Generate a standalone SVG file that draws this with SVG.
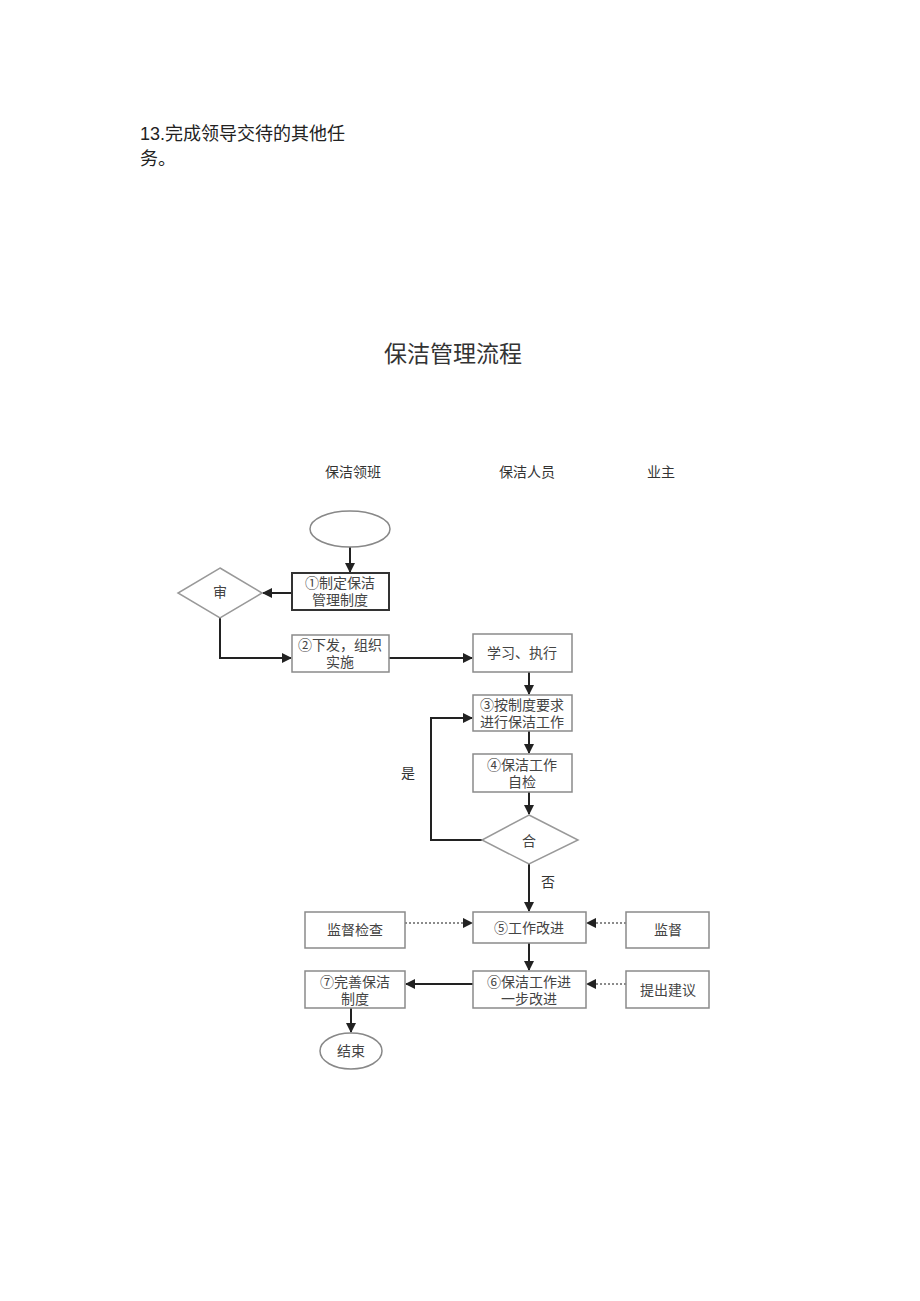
<svg xmlns="http://www.w3.org/2000/svg" width="920" height="1301" viewBox="0 0 920 1301">
<style>
.t{font-family:"Liberation Serif","Noto Sans CJK SC",serif;fill:#333;}
.b{fill:#fff;stroke:#8a8a8a;stroke-width:1.5;}
.bt{font-family:"Liberation Serif","Noto Sans CJK SC",serif;font-size:14px;fill:#444;text-anchor:middle;}
.c{fill:none;stroke:#222;stroke-width:2;}
.d{fill:none;stroke:#666;stroke-width:1.5;stroke-dasharray:2 2;}
</style>
<defs>
<marker id="ah" viewBox="0 0 10 10" refX="9" refY="5" markerWidth="5" markerHeight="5" orient="auto" markerUnits="strokeWidth">
<path d="M0,0 L10,5 L0,10 Z" fill="#222"/>
</marker>
<marker id="ahd" viewBox="0 0 10 10" refX="9" refY="5" markerWidth="7" markerHeight="7" orient="auto" markerUnits="strokeWidth">
<path d="M0,0 L10,5 L0,10 Z" fill="#222"/>
</marker>
</defs>
<rect width="920" height="1301" fill="#fff"/>
<text x="140" y="140" font-family="'Liberation Sans','Noto Sans CJK SC',sans-serif" font-size="18" fill="#222">13.完成领导交待的其他任</text>
<text x="140" y="165" font-family="'Liberation Sans','Noto Sans CJK SC',sans-serif" font-size="18" fill="#222">务。</text>
<text x="453" y="362" class="t" font-size="23" text-anchor="middle" fill="#222">保洁管理流程</text>
<text x="353" y="477" class="t" font-size="14" text-anchor="middle">保洁领班</text>
<text x="527" y="477" class="t" font-size="14" text-anchor="middle">保洁人员</text>
<text x="661" y="477" class="t" font-size="14" text-anchor="middle">业主</text>

<g id="connectors">
<line class="c" x1="350" y1="547" x2="350" y2="572" marker-end="url(#ah)"/>
<line class="c" x1="292" y1="593" x2="263" y2="593" marker-end="url(#ah)"/>
<polyline class="c" points="220,618 220,658 291,658" marker-end="url(#ah)"/>
<line class="c" x1="389" y1="658" x2="472" y2="658" marker-end="url(#ah)"/>
<line class="c" x1="529" y1="672" x2="529" y2="694" marker-end="url(#ah)"/>
<line class="c" x1="529" y1="731" x2="529" y2="753" marker-end="url(#ah)"/>
<line class="c" x1="529" y1="792" x2="529" y2="814" marker-end="url(#ah)"/>
<polyline class="c" points="482,840 431,840 431,718 472,718" marker-end="url(#ah)"/>
<line class="c" x1="529" y1="864" x2="529" y2="911" marker-end="url(#ah)"/>
<line class="d" x1="405" y1="923" x2="472" y2="923" marker-end="url(#ahd)"/>
<line class="d" x1="626" y1="923" x2="587" y2="923" marker-end="url(#ahd)"/>
<line class="c" x1="529" y1="943" x2="529" y2="970" marker-end="url(#ah)"/>
<line class="d" x1="626" y1="984" x2="587" y2="984" marker-end="url(#ahd)"/>
<line class="c" x1="473" y1="984" x2="406" y2="984" marker-end="url(#ah)"/>
<line class="c" x1="351" y1="1008" x2="351" y2="1032" marker-end="url(#ah)"/>
<text x="408" y="778" class="t" font-size="14" text-anchor="middle">是</text>
<text x="548" y="887" class="t" font-size="14" text-anchor="middle">否</text>
</g>

<g id="start"><ellipse cx="350" cy="529" rx="40" ry="18" fill="#fff" stroke="#888" stroke-width="1.5"/></g>
<g id="step1"><rect x="292" y="573" width="97" height="37" fill="#fff" stroke="#333" stroke-width="2"/>
<text x="340" y="588" class="bt">①制定保洁</text><text x="340" y="605" class="bt">管理制度</text></g>
<g id="review"><polygon points="220,568 262,593 220,618 178,593" fill="#fff" stroke="#999" stroke-width="1.5"/>
<text x="220" y="597" class="bt" font-size="11">审</text></g>
<g id="step2"><rect x="292" y="635" width="97" height="37" class="b"/>
<text x="340" y="650" class="bt">②下发，组织</text><text x="340" y="667" class="bt">实施</text></g>
<g id="learn"><rect x="473" y="634" width="99" height="38" class="b"/>
<text x="522" y="658" class="bt">学习、执行</text></g>
<g id="step3"><rect x="473" y="695" width="99" height="36" class="b"/>
<text x="522" y="710" class="bt">③按制度要求</text><text x="522" y="727" class="bt">进行保洁工作</text></g>
<g id="step4"><rect x="473" y="754" width="99" height="38" class="b"/>
<text x="522" y="770" class="bt">④保洁工作</text><text x="522" y="787" class="bt">自检</text></g>
<g id="check"><polygon points="529,815 578,840 529,864 482,840" fill="#fff" stroke="#999" stroke-width="1.5"/>
<text x="529" y="846" class="bt" font-size="11">合</text></g>
<g id="inspect"><rect x="305" y="912" width="100" height="36" class="b"/>
<text x="355" y="935" class="bt">监督检查</text></g>
<g id="step5"><rect x="473" y="912" width="113" height="31" class="b"/>
<text x="529" y="933" class="bt">⑤工作改进</text></g>
<g id="supervise"><rect x="626" y="912" width="83" height="36" class="b"/>
<text x="668" y="935" class="bt">监督</text></g>
<g id="step7"><rect x="305" y="971" width="100" height="37" class="b"/>
<text x="355" y="987" class="bt">⑦完善保洁</text><text x="355" y="1004" class="bt">制度</text></g>
<g id="step6"><rect x="473" y="971" width="113" height="37" class="b"/>
<text x="529" y="987" class="bt">⑥保洁工作进</text><text x="529" y="1004" class="bt">一步改进</text></g>
<g id="suggest"><rect x="626" y="971" width="83" height="37" class="b"/>
<text x="668" y="995" class="bt">提出建议</text></g>
<g id="end"><ellipse cx="351" cy="1051" rx="31" ry="18" fill="#fff" stroke="#888" stroke-width="1.5"/>
<text x="351" y="1056" class="bt">结束</text></g>
</svg>
